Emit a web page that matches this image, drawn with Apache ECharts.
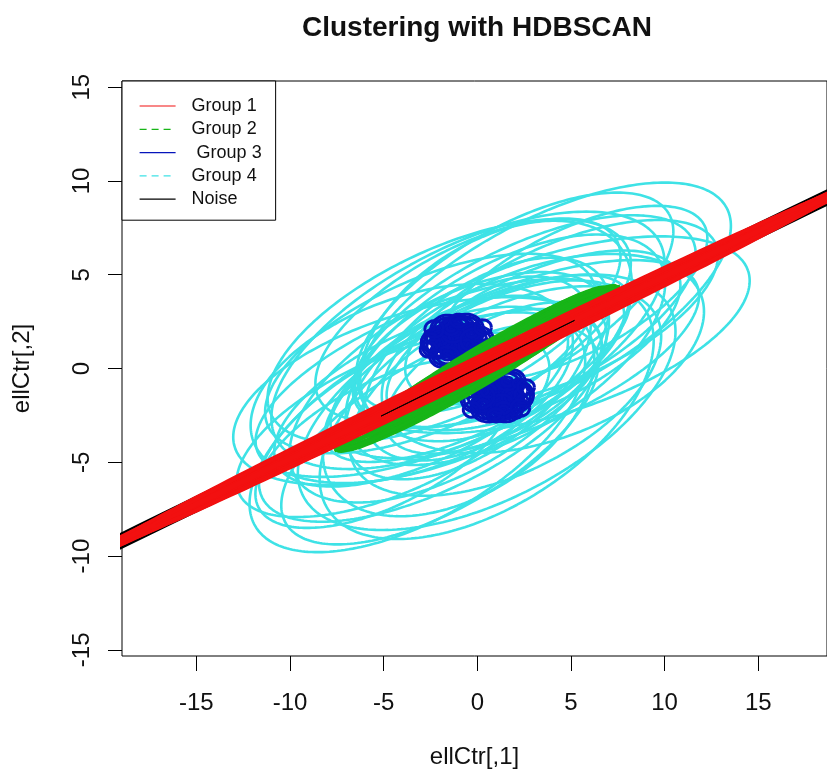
<!DOCTYPE html>
<html>
<head>
<meta charset="utf-8">
<script src="https://cdn.jsdelivr.net/npm/echarts@6/dist/echarts.min.js"></script>
<style>
  html, body { margin: 0; padding: 0; background: #fff; }
  #chart { width: 827px; height: 774px; }
</style>
</head>
<body>
<div id="chart"></div>
<script>
// Ellipses given as [centerX, centerY, semiMajor, semiMinor, angleDeg]
const xTicks = [-15, -10, -5, 0, 5, 10, 15];
const yTicks = [-15, -10, -5, 0, 5, 10, 15];

const group1 = [
  [0, 0.05, 22, 0.52, 25.9],
  [0, 0.05, 22, 0.44, 25.95],
  [0, 0.05, 21, 0.36, 25.85],
  [0.05, 0.05, 20, 0.28, 25.9],
  [0, 0.05, 22, 0.20, 25.9],
  [0, 0.05, 22, 0.12, 25.9],
  [0, 0.05, 34, 0.25, 25.9],
  [0, 0.05, 30, 0.15, 25.9],
  [0, 0.05, 26, 0.35, 25.9],
  [0, 0.05, 36, 0.06, 25.9],
  [0.05, 0.07, 19.5, 0.48, 26.0]
];

const group2 = [
  [0, 0, 8.7, 0.92, 30],
  [0.1, 0.05, 8.5, 0.80, 30.5],
  [-0.1, -0.05, 8.6, 0.66, 29.5],
  [0.2, 0.1, 8.3, 0.52, 31],
  [-0.2, -0.1, 8.4, 0.40, 29],
  [0, 0, 8.0, 0.28, 30],
  [0.1, 0, 7.8, 0.70, 28.5],
  [-0.1, 0, 8.2, 0.86, 31.5],
  [0, 0.05, 7.5, 0.58, 30],
  [0, 0, 8.8, 0.16, 30],
  [0.15, 0.1, 8.1, 0.98, 30.8],
  [-0.15, -0.1, 8.0, 0.46, 29.2],
  [0.05, 0.02, 8.4, 0.74, 30.2],
  [-0.05, 0.0, 7.9, 0.34, 30.4]
];

const group3 = [
  // upper cluster
  [-2.0, 1.4, 1.0, 0.85, 15],
  [-2.0, 1.4, 0.85, 0.72, 15],
  [-1.6, 2.0, 0.9, 0.85, 0],
  [-1.6, 2.0, 0.75, 0.7, 0],
  [-0.6, 2.0, 0.95, 0.9, 10],
  [-0.6, 2.0, 0.8, 0.75, 10],
  [0.0, 1.4, 0.9, 0.8, 30],
  [0.0, 1.4, 0.75, 0.65, 30],
  [-1.1, 1.8, 1.1, 1.0, 20],
  [-1.1, 1.8, 0.95, 0.85, 20],
  [-1.5, 0.9, 1.1, 0.8, 25],
  [-1.5, 0.9, 0.95, 0.65, 25],
  [-0.5, 0.9, 1.0, 0.8, 30],
  [-0.5, 0.9, 0.85, 0.65, 30],
  [-1.0, 1.45, 1.15, 0.88, 20],
  [-1.0, 1.45, 1.0, 0.76, 20],
  [-1.0, 1.45, 0.85, 0.64, 20],
  [-1.0, 1.45, 0.7, 0.52, 20],
  [-1.0, 1.45, 0.55, 0.41, 20],
  [-1.0, 1.45, 0.4, 0.3, 20],
  [-1.0, 1.45, 0.25, 0.19, 20],
  [-1.0, 1.45, 0.1, 0.08, 0],
  [-1.9, 1.5, 0.6, 0.52, 0],
  [-1.9, 1.5, 0.45, 0.4, 0],
  [-1.9, 1.5, 0.28, 0.25, 0],
  [-2.3, 1.2, 0.4, 0.35, 0],
  [-0.3, 1.9, 0.6, 0.5, 0],
  [-0.3, 1.9, 0.45, 0.38, 0],
  [-0.3, 1.9, 0.28, 0.25, 0],
  [-1.4, 2.2, 0.45, 0.4, 0],
  [-1.4, 2.2, 0.25, 0.22, 0],
  [-0.9, 2.4, 0.35, 0.3, 0],
  [-0.1, 1.1, 0.5, 0.4, 0],
  [-0.1, 1.1, 0.25, 0.2, 0],
  [-0.5, 0.6, 0.4, 0.3, 0],
  [-0.5, 0.6, 0.2, 0.15, 0],
  [-1.6, 0.7, 0.6, 0.45, 0],
  [-1.6, 0.7, 0.3, 0.25, 0],
  [-2.2, 0.8, 0.3, 0.25, 0],
  [-0.6, 1.2, 0.4, 0.35, 0],
  [-1.3, 1.9, 0.6, 0.5, 0],
  [-2.4, 1.6, 0.3, 0.3, 0],
  [-2.5, 1.4, 0.5, 0.45, 0],
  [-0.2, 1.5, 0.7, 0.6, 0],
  [-2.6, 1.0, 0.45, 0.4, 0],
  [-2.3, 2.1, 0.5, 0.45, 0],
  [-1.0, 2.55, 0.45, 0.35, 0],
  [0.3, 2.2, 0.45, 0.4, 0],
  [0.5, 1.2, 0.4, 0.35, 0],
  // lower cluster
  [2.0, -1.5, 1.0, 0.85, 15],
  [2.0, -1.5, 0.85, 0.72, 15],
  [1.5, -2.0, 0.95, 0.85, 0],
  [1.5, -2.0, 0.8, 0.7, 0],
  [0.6, -2.0, 0.95, 0.85, 10],
  [0.6, -2.0, 0.8, 0.7, 10],
  [0.0, -1.5, 0.9, 0.8, 30],
  [0.0, -1.5, 0.75, 0.65, 30],
  [1.1, -1.8, 1.1, 1.0, 20],
  [1.1, -1.8, 0.95, 0.85, 20],
  [1.5, -0.9, 1.1, 0.8, 25],
  [1.5, -0.9, 0.95, 0.65, 25],
  [0.6, -0.9, 1.0, 0.8, 30],
  [0.6, -0.9, 0.85, 0.65, 30],
  [1.0, -1.45, 1.15, 0.88, 20],
  [1.0, -1.45, 1.0, 0.76, 20],
  [1.0, -1.45, 0.85, 0.64, 20],
  [1.0, -1.45, 0.7, 0.52, 20],
  [1.0, -1.45, 0.55, 0.41, 20],
  [1.0, -1.45, 0.4, 0.3, 20],
  [1.0, -1.45, 0.25, 0.19, 20],
  [1.0, -1.45, 0.1, 0.08, 0],
  [1.9, -1.5, 0.6, 0.52, 0],
  [1.9, -1.5, 0.45, 0.4, 0],
  [1.9, -1.5, 0.28, 0.25, 0],
  [2.3, -1.2, 0.4, 0.35, 0],
  [0.3, -1.9, 0.6, 0.5, 0],
  [0.3, -1.9, 0.45, 0.38, 0],
  [0.3, -1.9, 0.28, 0.25, 0],
  [1.4, -2.2, 0.45, 0.4, 0],
  [1.4, -2.2, 0.25, 0.22, 0],
  [0.9, -2.4, 0.35, 0.3, 0],
  [0.1, -1.1, 0.5, 0.4, 0],
  [0.1, -1.1, 0.25, 0.2, 0],
  [0.6, -0.6, 0.4, 0.3, 0],
  [0.6, -0.6, 0.2, 0.15, 0],
  [1.6, -0.7, 0.6, 0.45, 0],
  [1.6, -0.7, 0.3, 0.25, 0],
  [2.2, -0.8, 0.3, 0.25, 0],
  [0.6, -1.2, 0.4, 0.35, 0],
  [1.3, -1.9, 0.6, 0.5, 0],
  [2.4, -1.7, 0.3, 0.3, 0],
  [2.1, -2.4, 0.3, 0.25, 0],
  [2.5, -1.4, 0.5, 0.45, 0],
  [0.2, -1.5, 0.7, 0.6, 0],
  [2.6, -1.0, 0.45, 0.4, 0],
  [2.3, -2.1, 0.5, 0.45, 0],
  [1.0, -2.5, 0.45, 0.35, 0],
  [-0.3, -2.2, 0.45, 0.4, 0],
  [-0.5, -1.2, 0.4, 0.35, 0]
];

const group4 = [
  [3.6, 3.4, 11.0, 4.5, 28],
  [-3.2, -3.4, 10.0, 4.6, 30],
  [4.0, 1.8, 11.0, 4.2, 18],
  [-3.2, -1.2, 10.2, 4.2, 17],
  [-0.5, 1.5, 11.5, 5.0, 27],
  [0.5, -1.8, 11.0, 5.2, 27],
  [2.5, 2.5, 10.0, 4.0, 26],
  [-2.5, -2.5, 10.0, 4.0, 26],
  [1.5, 1.0, 9.5, 4.5, 30],
  [-1.5, -1.0, 9.5, 4.5, 30],
  [2.0, 0.5, 10.5, 3.8, 22],
  [-2.0, -0.5, 10.5, 3.8, 22],
  [3.0, 1.5, 8.5, 3.5, 25],
  [-3.0, -1.5, 8.5, 3.5, 25],
  [0.0, 0.0, 9.0, 3.2, 27],
  [1.0, 2.0, 8.0, 4.8, 32],
  [-1.0, -2.0, 8.0, 4.8, 32],
  [4.5, 3.0, 9.0, 3.6, 24],
  [-4.5, -3.0, 9.0, 3.6, 24],
  [2.0, 3.5, 9.5, 4.0, 30],
  [-2.0, -3.5, 9.5, 4.0, 30],
  [5.0, 4.0, 8.0, 3.3, 27],
  [-5.0, -4.0, 7.5, 3.3, 27],
  [0.5, 0.5, 7.5, 4.0, 35],
  [-0.5, -0.5, 7.5, 4.0, 35],
  [3.5, 0.8, 9.0, 4.6, 20],
  [-3.5, -0.8, 9.0, 4.6, 20],
  [1.0, -0.5, 6.5, 3.0, 28],
  [0.5, -2.2, 10.0, 5.2, 32],
  [1.5, -1.2, 9.0, 4.4, 26],
  [-1.5, 2.0, 10.5, 4.4, 25],
  [-2.5, 0.8, 9.5, 4.0, 24],
  [-0.5, 2.6, 9.0, 3.8, 28]
];

// noise: long thin outlines under the bands, a short one on top, and the centre mark
const noiseUnder = [
  [0, 0.05, 60, 0.36, 25.9],
  [0, 0.05, 50, 0.33, 25.9]
];
const noiseTop = [
  [0, 0, 5.8, 0.01, 26.3]
];
const noiseCentres = [[0, 0]];

const COLORS = {
  'Group 1': '#f21010',
  'Group 2': '#17b517',
  ' Group 3': '#0614bb',
  'Group 4': '#3ee2e6',
  'Noise': '#000000'
};

const FONT = '"Liberation Sans", Arial, sans-serif';

function outline(e) {
  const [cx, cy, a, b, deg] = e;
  const t = deg * Math.PI / 180;
  const n = a > 3 ? 240 : 60;
  const pts = [];
  for (let k = 0; k <= n; k++) {
    const u = 2 * Math.PI * k / n;
    const ex = a * Math.cos(u), ey = b * Math.sin(u);
    pts.push([cx + ex * Math.cos(t) - ey * Math.sin(t),
              cy + ex * Math.sin(t) + ey * Math.cos(t)]);
  }
  return pts;
}

function ellipseSeries(name, list, width) {
  return list.map(e => ({
    type: 'line',
    name: name,
    data: outline(e),
    symbol: 'none',
    showSymbol: false,
    silent: true,
    animation: false,
    clip: true,
    lineStyle: { color: COLORS[name], width: width },
    itemStyle: { color: COLORS[name] }
  }));
}

const series = [].concat(
  ellipseSeries('Noise', noiseUnder, 2.4),
  ellipseSeries('Group 4', group4, 2.6),
  ellipseSeries(' Group 3', group3, 3),
  ellipseSeries('Group 2', group2, 3),
  ellipseSeries('Group 1', group1, 3),
  ellipseSeries('Noise', noiseTop, 1),
  [{
    type: 'scatter',
    name: 'Noise',
    data: noiseCentres,
    symbol: 'path://M0,1L1,0L5,4L9,0L10,1L6,5L10,9L9,10L5,6L1,10L0,9L4,5Z',
    symbolSize: 9,
    silent: true,
    animation: false,
    itemStyle: { color: '#000' }
  }]
);

const chart = echarts.init(document.getElementById('chart'), null, { renderer: 'canvas' });
chart.setOption({
  backgroundColor: '#ffffff',
  animation: false,
  title: {
    text: 'Clustering with HDBSCAN',
    left: 472,
    top: 9,
    textAlign: 'center',
    textStyle: { fontFamily: FONT, fontSize: 28, fontWeight: 'bold', color: '#111' }
  },
  legend: {
    orient: 'vertical',
    left: 122,
    top: 81,
    padding: [16, 14, 12, 17],
    itemWidth: 36,
    itemHeight: 14,
    itemGap: 5.3,
    borderColor: '#000',
    borderWidth: 1,
    borderRadius: 0,
    backgroundColor: '#fff',
    selectedMode: false,
    itemStyle: { opacity: 0 },
    lineStyle: { width: 1.2, opacity: 1 },
    textStyle: { fontFamily: FONT, fontSize: 18, color: '#111', padding: [0, 0, 0, 11] },
    data: [
      { name: 'Group 1', lineStyle: { type: 'solid' } },
      { name: 'Group 2', lineStyle: { type: [7, 5] } },
      { name: ' Group 3', lineStyle: { type: 'solid' } },
      { name: 'Group 4', lineStyle: { type: [7, 5] } },
      { name: 'Noise', lineStyle: { type: 'solid' } }
    ]
  },
  grid: {
    left: 122,
    right: -3,
    top: 81,
    bottom: 117,
    show: true,
    borderColor: '#000',
    borderWidth: 1,
    backgroundColor: 'transparent'
  },
  xAxis: {
    type: 'value',
    min: -18.97,
    max: 18.67,
    name: 'ellCtr[,1]',
    nameLocation: 'middle',
    nameGap: 89,
    nameTextStyle: { fontFamily: FONT, fontSize: 24, color: '#111' },
    axisLine: { show: false, onZero: false },
    splitLine: { show: false },
    axisTick: { show: true, length: 15, lineStyle: { color: '#000', width: 1 }, customValues: xTicks },
    axisLabel: { fontFamily: FONT, fontSize: 24, color: '#111', margin: 35, customValues: xTicks, formatter: v => String(v) }
  },
  yAxis: {
    type: 'value',
    min: -15.33,
    max: 15.33,
    name: 'ellCtr[,2]',
    nameLocation: 'middle',
    nameRotate: 90,
    nameGap: 88,
    nameTextStyle: { fontFamily: FONT, fontSize: 24, color: '#111' },
    axisLine: { show: false, onZero: false },
    splitLine: { show: false },
    axisTick: { show: true, length: 14, lineStyle: { color: '#000', width: 1 }, customValues: yTicks },
    axisLabel: { fontFamily: FONT, fontSize: 24, color: '#111', margin: 28, rotate: 90, customValues: yTicks, formatter: v => String(v) }
  },
  series: series
});
</script>
</body>
</html>
